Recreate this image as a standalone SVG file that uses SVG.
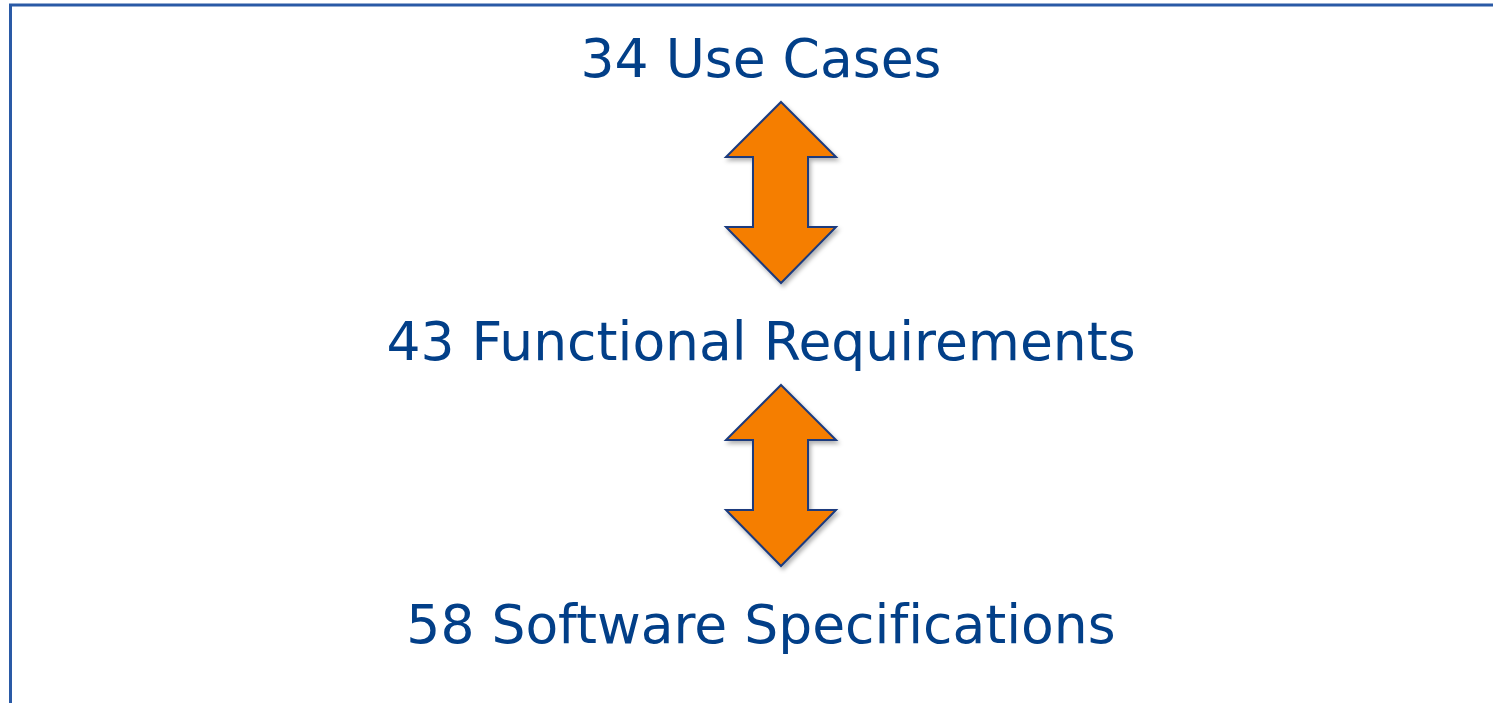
<svg xmlns="http://www.w3.org/2000/svg" width="1493" height="703" viewBox="0 0 1493 703">
  <style>
    .label { font-family: "DejaVu Sans", Verdana, sans-serif; font-size: 53.5px; fill: #023F88; text-anchor: middle; font-variant-ligatures: none; }
    .arrow { fill: #F57E03; stroke: #1B3A7E; stroke-width: 2; stroke-linejoin: miter; filter: url(#shadow); }
  </style>
  <defs>
    <filter id="shadow" x="-20%" y="-10%" width="140%" height="130%">
      <feDropShadow dx="2" dy="3" stdDeviation="2" flood-color="#000" flood-opacity="0.3"/>
    </filter>
    <!-- double-headed vertical arrow, tip at origin -->
    <path id="dblArrow" d="M0,0 L55,55 L27,55 L27,125 L55,125 L0,181 L-55,125 L-28,125 L-28,55 L-55,55 Z"/>
  </defs>
  <rect width="1493" height="703" fill="#FFFFFF"/>
  <!-- frame -->
  <rect x="10.5" y="5" width="1500" height="720" fill="none" stroke="#2A5AA6" stroke-width="3"/>

  <g id="use-cases">
    <text class="label" x="761" y="77">34 Use Cases</text>
  </g>
  <g id="functional-requirements">
    <text class="label" x="761" y="360">43 Functional Requirements</text>
  </g>
  <g id="software-specifications">
    <text class="label" x="761" y="643">58 Software Specifications</text>
  </g>

  <g id="connectors">
    <use href="#dblArrow" class="arrow" x="781" y="102"/>
    <use href="#dblArrow" class="arrow" x="781" y="385"/>
  </g>
</svg>
